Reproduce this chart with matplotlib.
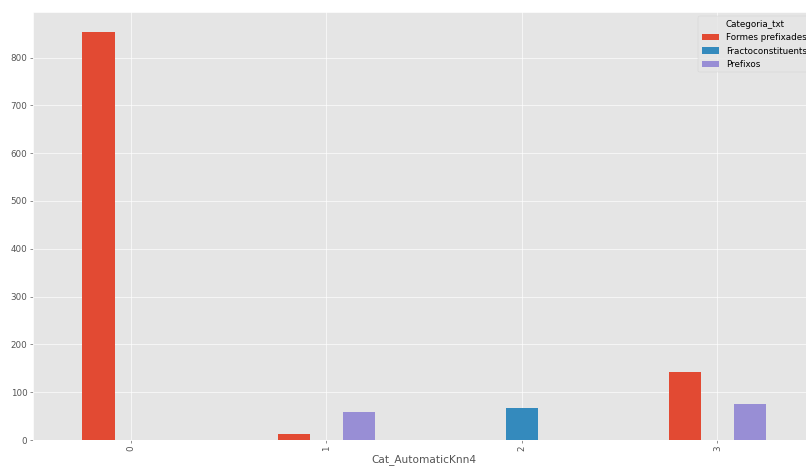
import matplotlib
matplotlib.use("Agg")
import matplotlib.pyplot as plt
import pandas as pd

clusters = [0, 1, 2, 3]
formes_prefixades = [853, 13, 0, 142]
fractoconstituents = [0, 0, 67, 0]
prefixos = [0, 59, 0, 75]

plt.style.use("ggplot")
plt.rcParams["font.size"] = 11

df = pd.DataFrame(
    {
        "Formes prefixades": formes_prefixades,
        "Fractoconstituents": fractoconstituents,
        "Prefixos": prefixos,
    },
    index=pd.Index(clusters, name="Cat_AutomaticKnn4"),
)
df.columns.name = "Categoria_txt"

fig = plt.figure(figsize=(14, 8.125))
ax = fig.add_axes([0.041, 0.0598, 0.97, 0.915])
df.plot.bar(ax=ax)

fig.savefig("out.png", dpi=57.6)
